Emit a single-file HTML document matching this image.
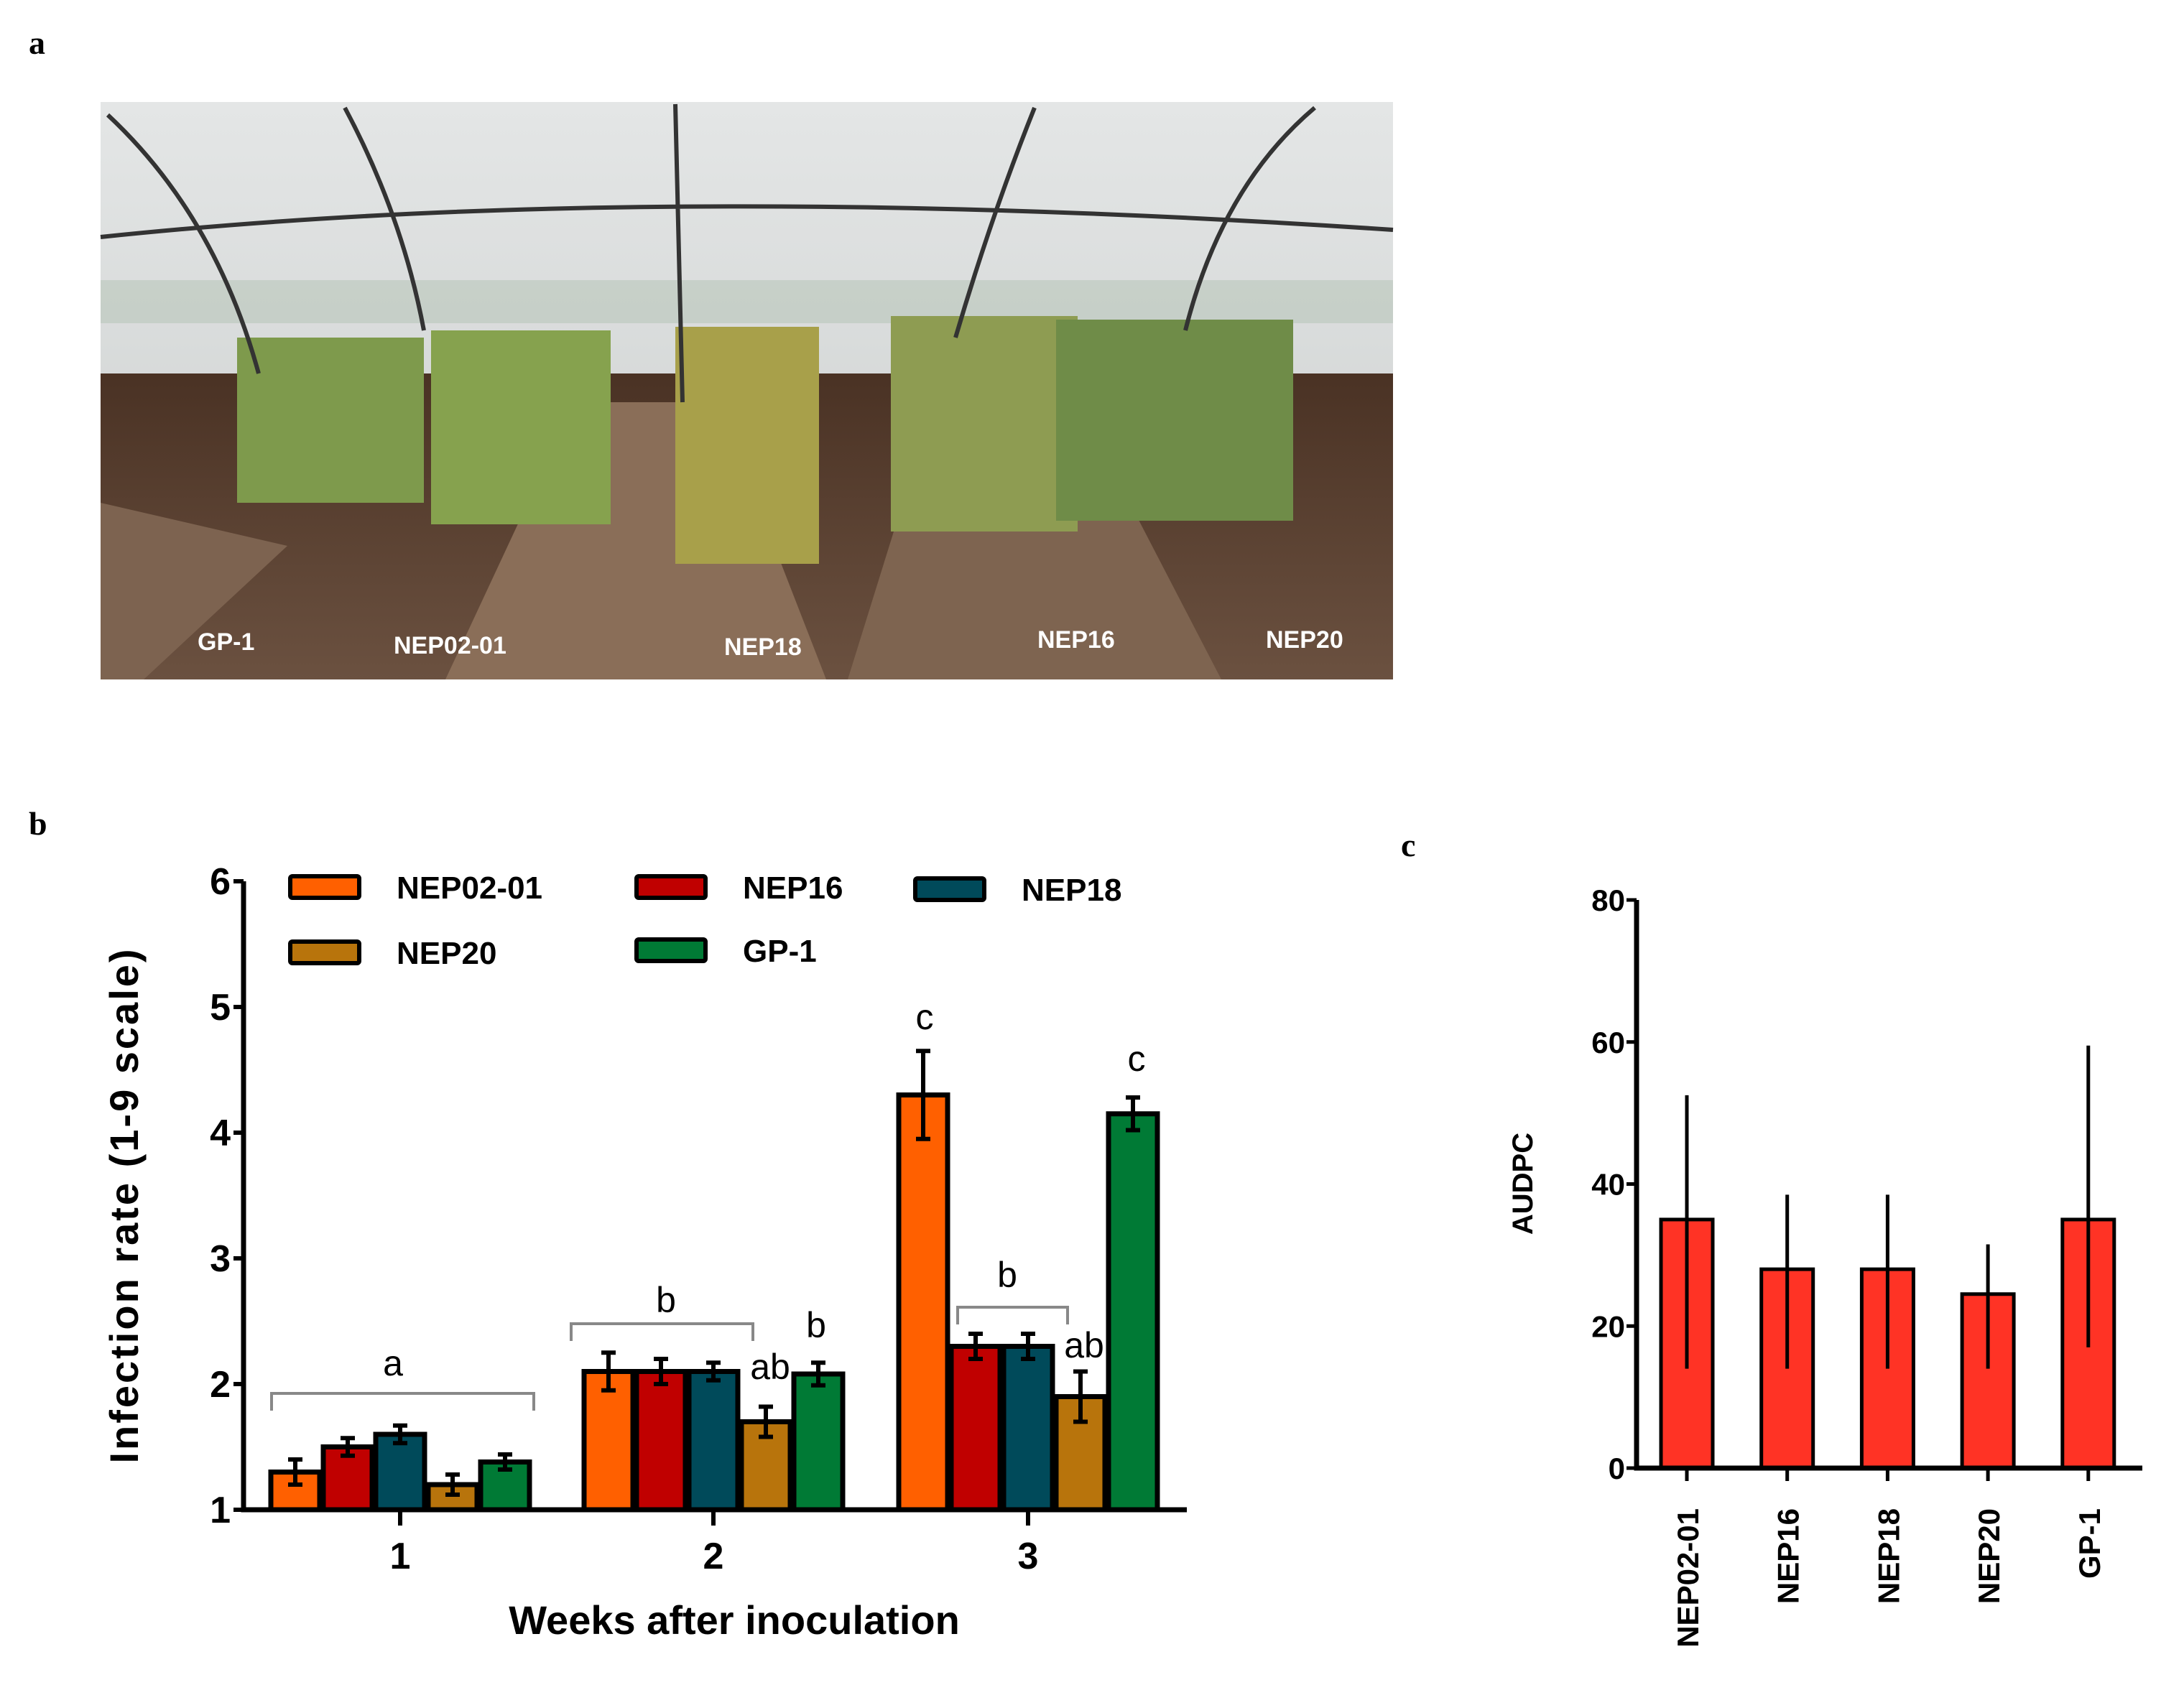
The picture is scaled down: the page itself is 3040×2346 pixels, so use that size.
<!DOCTYPE html>
<html><head><meta charset="utf-8"><style>
html,body{margin:0;padding:0;background:#fff;}
svg{display:block;}
text{font-family:"Liberation Sans",sans-serif;}
</style></head><body>
<svg id="fig" width="3040" height="2346" viewBox="0 0 3040 2346" xmlns="http://www.w3.org/2000/svg">
<defs>
<linearGradient id="sky" x1="0" y1="0" x2="0" y2="1"><stop offset="0" stop-color="#e4e6e6"/><stop offset="1" stop-color="#c9cdcc"/></linearGradient>
<linearGradient id="soil" x1="0" y1="0" x2="0" y2="1"><stop offset="0" stop-color="#4a3224"/><stop offset="1" stop-color="#6b5140"/></linearGradient>
</defs>
<text x="40" y="75" style="font-family:'Liberation Serif',serif" font-weight="bold" font-size="46">a</text>
<text x="40" y="1162" style="font-family:'Liberation Serif',serif" font-weight="bold" font-size="46">b</text>
<text x="1950" y="1192" style="font-family:'Liberation Serif',serif" font-weight="bold" font-size="46">c</text>

<g>
<rect x="140" y="142" width="1799" height="804" fill="url(#sky)"/>
<rect x="140" y="390" width="1799" height="60" fill="#b9c7bb" opacity="0.6"/>
<rect x="140" y="520" width="1799" height="426" fill="url(#soil)"/>
<path d="M800 560 L1000 560 L1150 946 L620 946 Z" fill="#8a6e58"/>
<path d="M1300 560 L1500 560 L1700 946 L1180 946 Z" fill="#7e6450"/>
<path d="M140 700 L400 760 L200 946 L140 946Z" fill="#7d6350"/>
<rect x="330" y="470" width="260" height="230" fill="#7e9a4c"/>
<rect x="600" y="460" width="250" height="270" fill="#86a24e"/>
<rect x="940" y="455" width="200" height="330" fill="#a8a04a"/>
<rect x="1240" y="440" width="260" height="300" fill="#8e9c52"/>
<rect x="1470" y="445" width="330" height="280" fill="#6f8c48"/>
<path d="M150 160 Q300 300 360 520 M480 150 Q560 300 590 460 M940 145 L950 560 M1440 150 Q1380 300 1330 470 M1830 150 Q1700 260 1650 460 M140 330 Q900 250 1939 320" stroke="#333" stroke-width="6" fill="none"/>
<text x="275" y="905" fill="#fff" font-weight="bold" font-size="34">GP-1</text>
<text x="548" y="910" fill="#fff" font-weight="bold" font-size="34">NEP02-01</text>
<text x="1008" y="912" fill="#fff" font-weight="bold" font-size="34">NEP18</text>
<text x="1444" y="902" fill="#fff" font-weight="bold" font-size="34">NEP16</text>
<text x="1762" y="902" fill="#fff" font-weight="bold" font-size="34">NEP20</text>
</g>

<g id="chartB"></g>
<g id="chartC"></g>
</svg>
<script>
const weeks = ["1","2","3"];
const seriesNames = ["NEP02-01","NEP16","NEP18","NEP20","GP-1"];
const seriesColors = ["#ff6000","#c00000","#004a5a","#b8740c","#007a35"];
const week1 = [1.3,1.5,1.6,1.2,1.38];
const week2 = [2.1,2.1,2.1,1.7,2.08];
const week3 = [4.3,2.3,2.3,1.9,4.15];
const err1 = [0.1,0.07,0.07,0.08,0.06];
const err2 = [0.15,0.1,0.07,0.12,0.09];
const err3 = [0.35,0.1,0.1,0.2,0.13];
const yTicksB = [1,2,3,4,5,6];

const audpcCats = ["NEP02-01","NEP16","NEP18","NEP20","GP-1"];
const audpcVals = [35,28,28,24.5,35];
const audpcHi = [52.5,38.5,38.5,31.5,59.5];
const audpcLo = [14,14,14,14,17];
const yTicksC = [0,20,40,60,80];

const NS="http://www.w3.org/2000/svg";
function mk(p,tag,a,txt){const e=document.createElementNS(NS,tag);for(const k in a)e.setAttribute(k,a[k]);if(txt!==undefined)e.textContent=txt;p.appendChild(e);return e;}

// Chart B
(function(){
const g=document.getElementById('chartB');
const x0=339,xEnd=1652,yBase=2102,yTop=1227;
const y=v=>yBase-(v-1)*(yBase-yTop)/5;
const centers=[557,993,1431];const bw=68,step=73;
const data=[week1,week2,week3],errs=[err1,err2,err3];
data.forEach((vals,wi)=>{vals.forEach((v,si)=>{
 const cx=centers[wi]+(si-2)*step;
 const r=mk(g,'rect',{x:cx-bw/2,y:y(v),width:bw,height:yBase-y(v),fill:seriesColors[si],stroke:'#000','stroke-width':7});
 
 
 const e=errs[wi][si];
 const eb=mk(g,'path',{d:`M${cx} ${y(v+e)}V${y(v-e)}M${cx-10} ${y(v+e)}H${cx+10}M${cx-10} ${y(v-e)}H${cx+10}`,stroke:'#000','stroke-width':6,fill:'none'});
 
 
});});
mk(g,'path',{d:`M${x0} ${yTop}V${yBase}H${xEnd}`,stroke:'#000','stroke-width':7,fill:'none'});
yTicksB.forEach(t=>{mk(g,'line',{x1:x0-14,x2:x0,y1:y(t),y2:y(t),stroke:'#000','stroke-width':6});
 const tl=mk(g,'text',{x:x0-18,y:y(t)+18,'text-anchor':'end','font-size':52,'font-weight':'bold'},t);
 
 });
weeks.forEach((w,i)=>{mk(g,'line',{x1:centers[i],x2:centers[i],y1:yBase,y2:yBase+22,stroke:'#000','stroke-width':6});
 const tl=mk(g,'text',{x:centers[i],y:yBase+82,'text-anchor':'middle','font-size':52,'font-weight':'bold'},w);
 
 });
const xt=mk(g,'text',{x:1022,y:2275,'text-anchor':'middle','font-size':56,'font-weight':'bold'},'Weeks after inoculation');

const yt=mk(g,'text',{x:0,y:0,transform:'translate(192,1678) rotate(-90)','text-anchor':'middle','font-size':56,'font-weight':'bold','letter-spacing':'3'},'Infection rate (1-9 scale)');

const leg=[[404,1234,0],[886,1234,1],[1274,1237,2],[404,1325,3],[886,1322,4]];
leg.forEach(([lx,ly,si])=>{const r=mk(g,'rect',{x:lx,y:ly-14,width:96,height:30,fill:seriesColors[si],stroke:'#000','stroke-width':6,rx:3});
 
 const t=mk(g,'text',{x:lx+148,y:ly+17,'font-size':44,'font-weight':'bold'},seriesNames[si]);
 });
[[378,743,1940],[795,1048,1843],[1333,1486,1820]].forEach(([a,b,yy])=>{const p=mk(g,'path',{d:`M${a} ${yy+24}V${yy}H${b}V${yy+24}`,stroke:'#888','stroke-width':4,fill:'none'});
 });
[['a',547,1915],['b',927,1827],['ab',1072,1920],['b',1136,1862],['c',1287,1433],['b',1402,1792],['ab',1509,1890],['c',1582,1491]].forEach(([s,lx,ly])=>{
 const t=mk(g,'text',{x:lx,y:ly,'text-anchor':'middle','font-size':50},s);
 });
})();

// Chart C
(function(){
const g=document.getElementById('chartC');
const x0=2278,xEnd=2982,yBase=2044,yTop=1253;
const y=v=>yBase-v*(yBase-yTop)/80;
const c0=2348,step=139.7,bw=72;
audpcVals.forEach((v,i)=>{const cx=c0+i*step;
 const r=mk(g,'rect',{x:cx-bw/2,y:y(v),width:bw,height:yBase-y(v),fill:'#ff3325',stroke:'#000','stroke-width':5});
 
 const e=mk(g,'line',{x1:cx,x2:cx,y1:y(audpcHi[i]),y2:y(audpcLo[i]),stroke:'#000','stroke-width':5});
 
 mk(g,'line',{x1:cx,x2:cx,y1:yBase,y2:yBase+18,stroke:'#000','stroke-width':5});
 const t=mk(g,'text',{x:0,y:0,transform:`translate(${cx+16},2100) rotate(-90)`,'text-anchor':'end','font-size':42,'font-weight':'bold'},audpcCats[i]);
 });
mk(g,'path',{d:`M${x0} ${yTop}V${yBase}H${xEnd}`,stroke:'#000','stroke-width':7,fill:'none'});
yTicksC.forEach(t=>{mk(g,'line',{x1:x0-14,x2:x0,y1:y(t),y2:y(t),stroke:'#000','stroke-width':5});
 const tl=mk(g,'text',{x:x0-16,y:y(t)+15,'text-anchor':'end','font-size':42,'font-weight':'bold'},t);
 });
const yt=mk(g,'text',{x:0,y:0,transform:'translate(2133,1648) rotate(-90)','text-anchor':'middle','font-size':40,'font-weight':'bold'},'AUDPC');

})();
</script>
</body></html>
